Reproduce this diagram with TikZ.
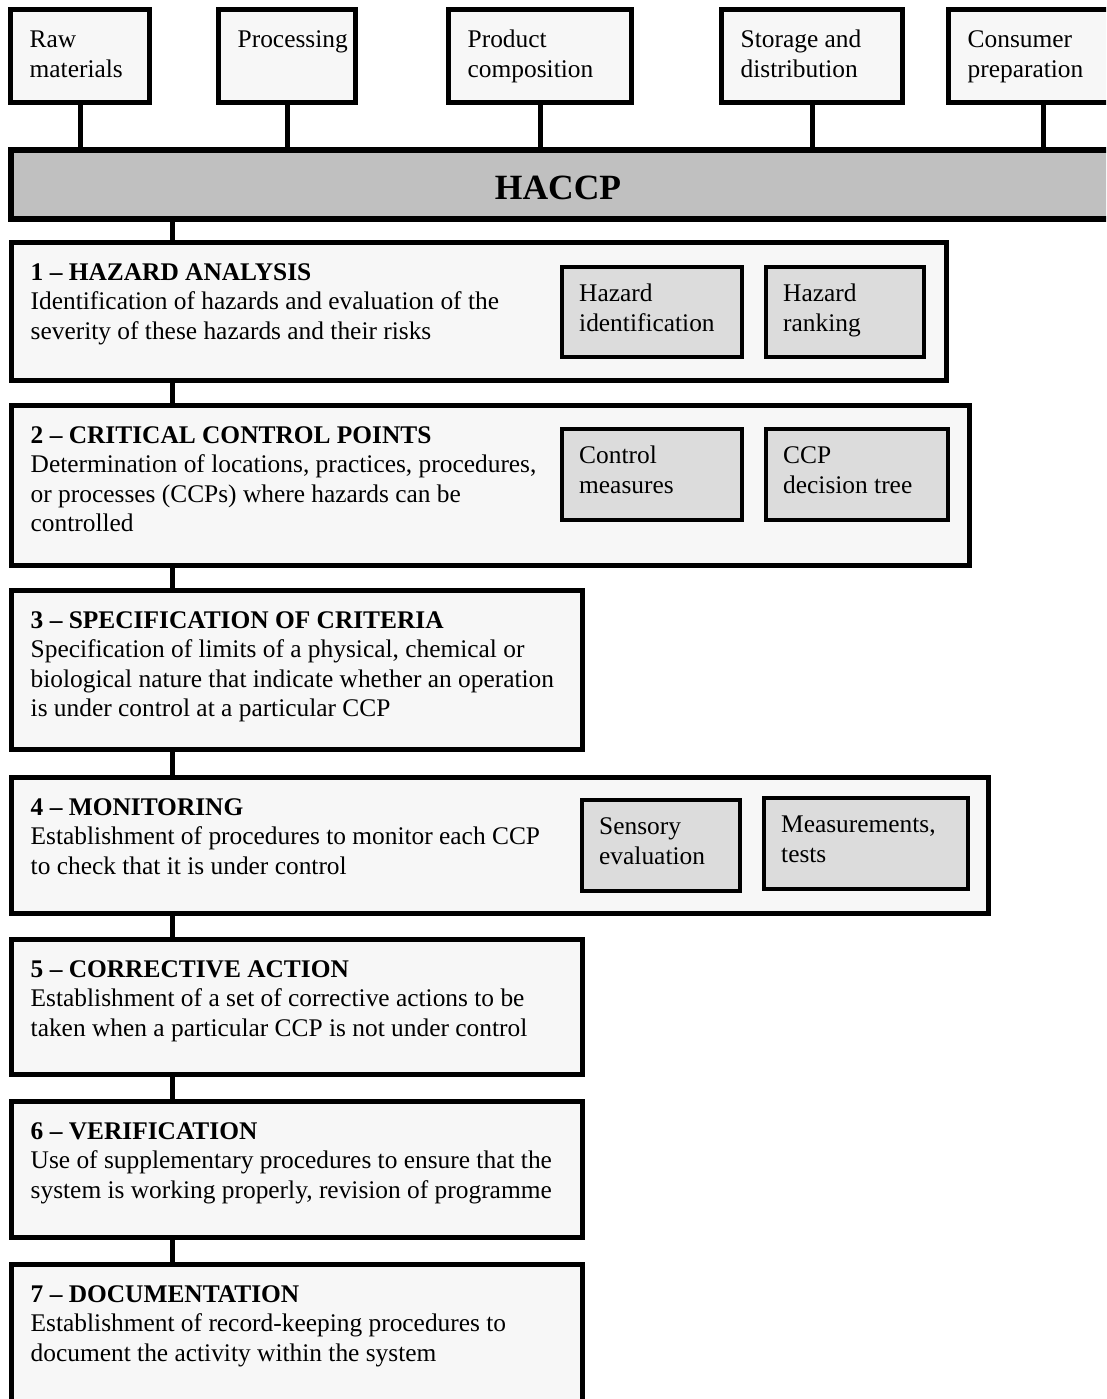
\documentclass[tikz,border=0pt]{standalone}
\usepackage{fontspec}
\setmainfont{Liberation Serif}
\usetikzlibrary{fit}
\definecolor{boxfill}{HTML}{F7F7F7}
\definecolor{innerfill}{HTML}{DCDCDC}
\definecolor{barfill}{HTML}{C0C0C0}
\begin{document}
\begin{tikzpicture}[x=1pt,y=-1pt,
  topbox/.style={draw, line width=5pt, fill=boxfill, inner sep=0pt},
  mainbox/.style={draw, line width=5pt, fill=boxfill, inner sep=0pt},
  subbox/.style={draw, line width=4pt, fill=innerfill, inner sep=0pt},
  barbox/.style={draw, line width=6pt, fill=barfill, inner sep=0pt},
  txt/.style={anchor=north west, inner sep=0pt, align=left, font=\fontsize{25.4}{29.5}\selectfont},
  link/.style={line width=5pt}]
\clip (0,0) rectangle (1106,1399);
\fill[white] (0,0) rectangle (1106,1399);
\coordinate (spine) at (172,0);

% top boxes
\node[topbox, fit={(10.5,9.5) (149.5,102.5)}] (raw) {};
\node[topbox, fit={(218.5,9.5) (355.5,102.5)}] (proc) {};
\node[topbox, fit={(448.5,9.5) (631.5,102.5)}] (prod) {};
\node[topbox, fit={(721.5,9.5) (902.5,102.5)}] (stor) {};
\node[topbox, fit={(948.5,9.5) (1137.5,102.5)}] (cons) {};
\node[txt] (traw) at ([shift={(21.5,19.85)}]raw.north west) {\strut Raw\\materials};
\node[txt] (tproc) at ([shift={(21.5,19.85)}]proc.north west) {\strut Processing};
\node[txt] (tprod) at ([shift={(21.5,19.85)}]prod.north west) {\strut Product\\composition};
\node[txt] (tstor) at ([shift={(21.5,19.85)}]stor.north west) {\strut Storage and\\distribution};
\node[txt] (tcons) at ([shift={(21.5,19.85)}]cons.north west) {\strut Consumer\\preparation};

% HACCP bar
\node[barbox, fit={(11,150) (1120,219)}] (bar) {};
\node[anchor=base, inner sep=0pt, font=\fontsize{35.5}{40}\selectfont\bfseries] (haccp) at (558,200) {HACCP};

% main boxes
\node[mainbox, fit={(11.5,242.5) (946.5,380.5)}] (b1) {};
\node[mainbox, fit={(11.5,405.5) (969.5,565.5)}] (b2) {};
\node[mainbox, fit={(11.5,590.5) (582.5,749.5)}] (b3) {};
\node[mainbox, fit={(11.5,777.5) (988.5,913.5)}] (b4) {};
\node[mainbox, fit={(11.5,939.5) (582.5,1074.5)}] (b5) {};
\node[mainbox, fit={(11.5,1101.5) (582.5,1237.5)}] (b6) {};
\node[mainbox, fit={(11.5,1264.5) (582.5,1430)}] (b7) {};

\node[txt] (t1) at ([shift={(21.5,19.35)}]b1.north west) {\strut\textbf{1 – HAZARD ANALYSIS}\\Identification of hazards and evaluation of the\\severity of these hazards and their risks};
\node[txt] (t2) at ([shift={(21.5,19.35)}]b2.north west) {\strut\textbf{2 – CRITICAL CONTROL POINTS}\\Determination of locations, practices, procedures,\\or processes (CCPs) where hazards can be\\controlled};
\node[txt] (t3) at ([shift={(21.5,19.35)}]b3.north west) {\strut\textbf{3 – SPECIFICATION OF CRITERIA}\\Specification of limits of a physical, chemical or\\biological nature that indicate whether an operation\\is under control at a particular CCP};
\node[txt] (t4) at ([shift={(21.5,19.35)}]b4.north west) {\strut\textbf{4 – MONITORING}\\Establishment of procedures to monitor each CCP\\to check that it is under control};
\node[txt] (t5) at ([shift={(21.5,19.35)}]b5.north west) {\strut\textbf{5 – CORRECTIVE ACTION}\\Establishment of a set of corrective actions to be\\taken when a particular CCP is not under control};
\node[txt] (t6) at ([shift={(21.5,19.35)}]b6.north west) {\strut\textbf{6 – VERIFICATION}\\Use of supplementary procedures to ensure that the\\system is working properly, revision of programme};
\node[txt] (t7) at ([shift={(21.5,19.35)}]b7.north west) {\strut\textbf{7 – DOCUMENTATION}\\Establishment of record-keeping procedures to\\document the activity within the system};

% sub boxes
\node[subbox, fit={(562,267) (742,357)}] (s1) {};
\node[subbox, fit={(766,267) (924,357)}] (s2) {};
\node[subbox, fit={(562,429) (742,520)}] (s3) {};
\node[subbox, fit={(766,429) (948,520)}] (s4) {};
\node[subbox, fit={(582,800) (740,891)}] (s5) {};
\node[subbox, fit={(764,798) (968,889)}] (s6) {};
\node[txt] (ts1) at ([shift={(19,15.85)}]s1.north west) {\strut Hazard\\identification};
\node[txt] (ts2) at ([shift={(19,15.85)}]s2.north west) {\strut Hazard\\ranking};
\node[txt] (ts3) at ([shift={(19,15.85)}]s3.north west) {\strut Control\\measures};
\node[txt] (ts4) at ([shift={(19,15.85)}]s4.north west) {\strut CCP\\decision tree};
\node[txt] (ts5) at ([shift={(19,15.85)}]s5.north west) {\strut Sensory\\evaluation};
\node[txt] (ts6) at ([shift={(19,15.85)}]s6.north west) {\strut Measurements,\\tests};

% connectors
\draw[link] (raw.south) -- (raw.south |- bar.north);
\draw[link] (proc.south) -- (proc.south |- bar.north);
\draw[link] (prod.south) -- (prod.south |- bar.north);
\draw[link] (stor.south) -- (stor.south |- bar.north);
\draw[link] (cons.south) -- (cons.south |- bar.north);
\draw[link] (bar.south -| spine) -- (b1.north -| spine);
\draw[link] (b1.south -| spine) -- (b2.north -| spine);
\draw[link] (b2.south -| spine) -- (b3.north -| spine);
\draw[link] (b3.south -| spine) -- (b4.north -| spine);
\draw[link] (b4.south -| spine) -- (b5.north -| spine);
\draw[link] (b5.south -| spine) -- (b6.north -| spine);
\draw[link] (b6.south -| spine) -- (b7.north -| spine);
\end{tikzpicture}
\end{document}
